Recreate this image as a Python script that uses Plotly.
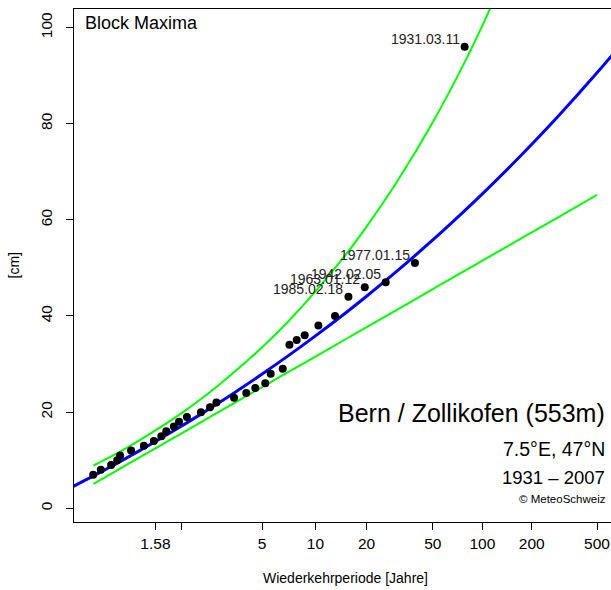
import numpy as np
import plotly.graph_objects as go

# ---- data ----
# observed block maxima: return period [years] (Weibull plotting position) and snow depth [cm]
obs_T = [1.099, 1.130, 1.182, 1.219, 1.238, 1.322, 1.444, 1.560, 1.660, 1.733, 1.857, 1.950,
         2.108, 2.438, 2.690, 2.889, 3.545, 4.105, 4.588, 5.200, 5.571, 6.500, 7.091, 7.800,
         8.667, 10.40, 13.00, 15.60, 19.50, 26.00, 39.00, 78.00]
obs_cm = [7, 8, 9, 10, 11, 12, 13, 14, 15, 16, 17, 18,
          19, 20, 21, 22, 23, 24, 25, 26, 28, 29, 34, 35,
          36, 38, 40, 44, 46, 47, 51, 96]
event_T = [78.00, 39.00, 26.00, 19.50, 15.60]
event_cm = [96, 51, 47, 46, 44]
event_labels = ["1931.03.11", "1977.01.15", "1942.02.05", "1963.01.12", "1985.02.18"]

# fitted return level curve and confidence bounds
curve_T = [1.04, 1.1, 1.2, 1.35, 1.58, 2, 2.5, 3, 4, 5, 7, 10, 15, 20, 30, 50, 75, 100, 150, 200, 300, 500, 700]
fit_cm = [4.38, 6.73, 9.04, 11.36, 13.88, 17.12, 19.9, 22.06, 25.38, 27.92, 31.75, 35.86, 40.63,
          44.11, 49.16, 55.81, 61.34, 65.4, 71.34, 75.71, 82.11, 90.58, 96.42]
upper_T = [1.1, 1.2, 1.35, 1.58, 2, 2.5, 3, 4, 5, 7, 10, 15, 20, 30, 50, 75, 100, 150]
upper_cm = [8.9, 11.1, 13.5, 16.2, 19.8, 23.1, 25.8, 30.1, 33.5, 38.9, 45.1, 52.7,
            58.6, 67.6, 80.3, 91.6, 100.4, 114.0]
lower_T = [1.1, 1.2, 1.35, 1.58, 2, 2.5, 3, 4, 5, 7, 10, 15, 20, 30, 50, 75, 100, 150, 200, 300, 500]
lower_cm = [5.07, 7.54, 9.95, 12.47, 15.6, 18.19, 20.14, 23.06, 25.21, 28.35, 31.57, 35.16, 37.68,
            41.19, 45.58, 49.05, 51.5, 54.95, 57.4, 60.84, 65.18]

tick_T = [1.58, 2, 5, 10, 20, 50, 100, 200, 500]
tick_text = ["1.58", "", "5", "10", "20", "50", "100", "200", "500"]
y_ticks = [0, 20, 40, 60, 80, 100]


def gumbel(T):
    """Gumbel reduced variate: position on the return-period axis."""
    T = np.asarray(T, dtype=float)
    return -np.log(-np.log(1.0 - 1.0 / T))


FONT = "Liberation Sans, Arial, Helvetica, sans-serif"

fig = go.Figure()
fig.add_trace(go.Scatter(x=gumbel(upper_T), y=upper_cm, mode="lines",
                         line=dict(color="#00ff00", width=2, shape="spline"), hoverinfo="skip"))
fig.add_trace(go.Scatter(x=gumbel(lower_T), y=lower_cm, mode="lines",
                         line=dict(color="#00ff00", width=2, shape="spline"), hoverinfo="skip"))
fig.add_trace(go.Scatter(x=gumbel(curve_T), y=fit_cm, mode="lines",
                         line=dict(color="#0000ff", width=3, shape="spline"), hoverinfo="skip"))
fig.add_trace(go.Scatter(x=gumbel(obs_T), y=obs_cm, mode="markers",
                         marker=dict(color="black", size=8), cliponaxis=False))

for T, v, lab in zip(event_T, event_cm, event_labels):
    fig.add_annotation(x=float(gumbel(T)), y=v, xref="x", yref="y", text=lab, showarrow=False,
                       xanchor="right", yanchor="middle", xshift=-3, yshift=8,
                       font=dict(family=FONT, size=14, color="#222"))

L, R, T_, B = 74, 0, 9, 68
W, H = 611, 590
pw, ph = W - L - R, H - T_ - B


def px(x):
    return (x - L) / pw


def py(y):
    return (H - B - y) / ph


notes = [
    ("Block Maxima", 83, 23, "left", 18),
    ("Bern / Zollikofen (553m)", 607, 413, "right", 25),
    ("7.5°E, 47°N", 607, 449, "right", 19.5),
    ("1931 – 2007", 607, 477, "right", 18.5),
    ("© MeteoSchweiz", 608, 499, "right", 11.5),
]
for txt, x, y, anc, size in notes:
    fig.add_annotation(x=px(x), y=py(y), xref="paper", yref="paper", text=txt, showarrow=False,
                       xanchor=anc, yanchor="middle", font=dict(family=FONT, size=size, color="black"))

fig.add_annotation(x=px(345.5), y=py(578), xref="paper", yref="paper", text="Wiederkehrperiode [Jahre]",
                   showarrow=False, xanchor="center", yanchor="middle",
                   font=dict(family=FONT, size=14, color="black"))
fig.add_annotation(x=px(13), y=py(265.5), xref="paper", yref="paper", text="[cm]", textangle=-90,
                   showarrow=False, xanchor="center", yanchor="middle",
                   font=dict(family=FONT, size=14, color="black"))

fig.update_layout(
    width=W, height=H, margin=dict(l=L, r=R, t=T_, b=B, pad=0),
    plot_bgcolor="white", paper_bgcolor="white", showlegend=False,
    font=dict(family=FONT, color="black"),
    xaxis=dict(range=[-1.1487, 6.4105], tickvals=gumbel(tick_T), ticktext=tick_text,
               showgrid=False, zeroline=False, showline=True, linecolor="black", linewidth=1,
               mirror=True, ticks="outside", ticklen=7, tickcolor="black",
               tickfont=dict(family=FONT, size=15.5, color="black")),
    yaxis=dict(range=[-2.85, 103.85], tickvals=y_ticks, tickangle=-90,
               showgrid=False, zeroline=False, showline=True, linecolor="black", linewidth=1,
               mirror=False, ticks="outside", ticklen=7, tickcolor="black", ticklabelstandoff=8,
               tickfont=dict(family=FONT, size=15.5, color="black")),
)

fig.write_html("out.html", config={"displayModeBar": False},
               post_script="document.body.style.margin='0';document.body.style.overflow='hidden';")
